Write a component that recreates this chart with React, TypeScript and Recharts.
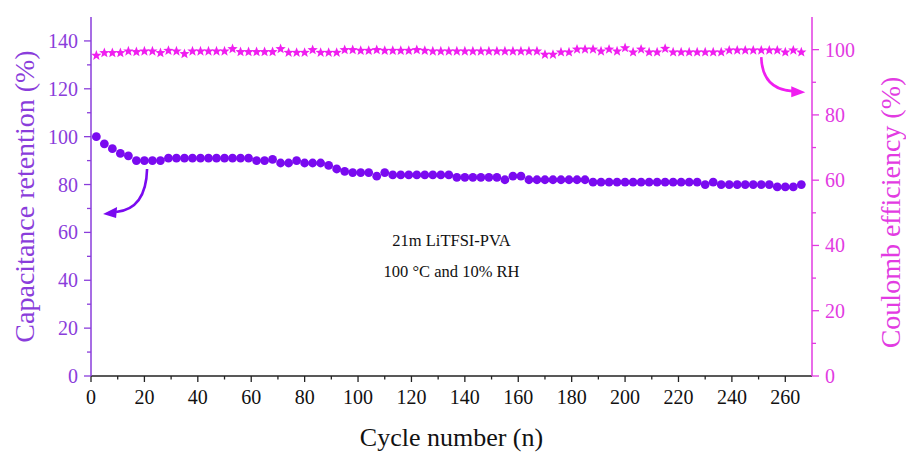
import { ComposedChart, Line, XAxis, YAxis, ReferenceDot } from 'recharts';

// cycle numbers where a measurement was taken
const CYCLES = [
  2, 5, 8, 11, 14, 17, 20, 23, 26, 29,
  32, 35, 38, 41, 44, 47, 50, 53, 56, 59,
  62, 65, 68, 71, 74, 77, 80, 83, 86, 89,
  92, 95, 98, 101, 104, 107, 110, 113, 116, 119,
  122, 125, 128, 131, 134, 137, 140, 143, 146, 149,
  152, 155, 158, 161, 164, 167, 170, 173, 176, 179,
  182, 185, 188, 191, 194, 197, 200, 203, 206, 209,
  212, 215, 218, 221, 224, 227, 230, 233, 236, 239,
  242, 245, 248, 251, 254, 257, 260, 263, 266,
];

// capacitance retention (%)
const RETENTION = [
  100, 97, 95, 93, 92, 90, 90, 90, 90, 91,
  91, 91, 91, 91, 91, 91, 91, 91, 91, 91,
  90, 90, 90.5, 89, 89, 90, 89, 89, 89, 88,
  86.5, 85.5, 85, 85, 85, 83.5, 85, 84, 84, 84,
  84, 84, 84, 84, 84, 83, 83, 83, 83, 83,
  83, 82, 83.5, 83.5, 82, 82, 82, 82, 82, 82,
  82, 82, 81, 81, 81, 81, 81, 81, 81, 81,
  81, 81, 81, 81, 81, 81, 80, 81, 80, 80,
  80, 80, 80, 80, 80, 79, 79, 79, 80,
];

// coulomb efficiency (%)
const COULOMB = [
  98.2, 99.0, 99.0, 99.0, 99.5, 99.3, 99.5, 99.5, 99.0, 99.7,
  99.5, 98.7, 99.5, 99.5, 99.5, 99.5, 99.5, 100.2, 99.3, 99.3,
  99.3, 99.3, 99.3, 100.2, 99.1, 99.1, 99.1, 99.9, 99.1, 99.1,
  99.1, 99.9, 99.9, 99.7, 99.7, 99.9, 99.7, 99.7, 99.7, 99.7,
  99.9, 99.7, 99.5, 99.5, 99.5, 99.5, 99.5, 99.5, 99.5, 99.5,
  99.5, 99.5, 99.5, 99.5, 99.5, 99.5, 98.5, 98.5, 99.2, 99.2,
  100.1, 100.1, 100.1, 99.5, 100.1, 99.5, 100.5, 99.2, 100.1, 99.2,
  99.2, 100.3, 99.2, 99.2, 99.2, 99.2, 99.2, 99.2, 99.2, 99.8,
  99.8, 99.8, 99.8, 99.8, 99.8, 99.8, 99.2, 99.8, 99.2,
];

const X_TICKS = [0, 10, 20, 30, 40, 50, 60, 70, 80, 90, 100, 110, 120, 130, 140, 150, 160, 170, 180, 190, 200, 210, 220, 230, 240, 250, 260];
const LEFT_TICKS = [0, 10, 20, 30, 40, 50, 60, 70, 80, 90, 100, 110, 120, 130, 140];
const RIGHT_TICKS = [0, 10, 20, 30, 40, 50, 60, 70, 80, 90, 100];

const rows = CYCLES.map((cycle, i) => ({ cycle, retention: RETENTION[i], coulomb: COULOMB[i] }));

const SERIF = '"Liberation Serif", "Times New Roman", serif';
const VIOLET = '#8a3ddb';
const VIOLET_DOT = '#7a0af0';
const MAGENTA = '#e23be2';
const MAGENTA_DOT = '#f01ef0';

const starPoints = (cx: number, cy: number, outer: number, inner: number) => {
  const pts: string[] = [];
  for (let k = 0; k < 10; k++) {
    const r = k % 2 === 0 ? outer : inner;
    const a = -Math.PI / 2 + (k * Math.PI) / 5;
    pts.push(`${cx + r * Math.cos(a)},${cy + r * Math.sin(a)}`);
  }
  return pts.join(' ');
};

const renderCircle = (p: any) => (
  <circle key={`c-${p.index}`} cx={p.cx} cy={p.cy} r={4.4} fill={VIOLET_DOT} />
);

const renderStar = (p: any) => (
  <polygon key={`s-${p.index}`} points={starPoints(p.cx, p.cy, 5.4, 2.3)} fill={MAGENTA_DOT} />
);

const BottomTick = ({ x, y, payload }: any) => {
  const major = payload.value % 20 === 0;
  return (
    <g>
      <line x1={x} x2={x} y1={y} y2={y + (major ? 6 : 3.5)} stroke="#222" strokeWidth={1.3} />
      {major && (
        <text x={x} y={y + 21} textAnchor="middle" dominantBaseline="central" fontFamily={SERIF} fontSize={20} fill="#111">
          {payload.value}
        </text>
      )}
    </g>
  );
};

const LeftTick = ({ x, y, payload }: any) => {
  const major = payload.value % 20 === 0;
  return (
    <g>
      <line x1={x} x2={x - (major ? 7 : 4)} y1={y} y2={y} stroke={VIOLET} strokeWidth={1.3} />
      {major && (
        <text x={x - 13} y={y} textAnchor="end" dominantBaseline="central" fontFamily={SERIF} fontSize={20} fill={VIOLET}>
          {payload.value}
        </text>
      )}
    </g>
  );
};

const RightTick = ({ x, y, payload }: any) => {
  const major = payload.value % 20 === 0;
  return (
    <g>
      <line x1={x} x2={x + (major ? 7 : 4)} y1={y} y2={y} stroke={MAGENTA} strokeWidth={1.3} />
      {major && (
        <text x={x + 13} y={y} textAnchor="start" dominantBaseline="central" fontFamily={SERIF} fontSize={20} fill={MAGENTA}>
          {payload.value}
        </text>
      )}
    </g>
  );
};

const leftTitle = ({ viewBox }: any) => {
  const x = viewBox.x + 24;
  const y = viewBox.y + viewBox.height / 2;
  return (
    <text x={x} y={y} transform={`rotate(-90, ${x}, ${y})`} textAnchor="middle" dominantBaseline="central" fontFamily={SERIF} fontSize={28} fill={VIOLET}>
      Capacitance retention (%)
    </text>
  );
};

const rightTitle = ({ viewBox }: any) => {
  const x = viewBox.x + 78;
  const y = viewBox.y + viewBox.height / 2 + 16;
  return (
    <text x={x} y={y} transform={`rotate(-90, ${x}, ${y})`} textAnchor="middle" dominantBaseline="central" fontFamily={SERIF} fontSize={28} fill={MAGENTA}>
      Coulomb efficiency (%)
    </text>
  );
};

const bottomTitle = ({ viewBox }: any) => (
  <text x={viewBox.x + viewBox.width / 2} y={viewBox.y + 61} textAnchor="middle" dominantBaseline="central" fontFamily={SERIF} fontSize={26} fill="#111">
    Cycle number (n)
  </text>
);

// curved arrows pointing each series to its axis
const leftArrow = ({ cx, cy }: any) => (
  <g>
    <path d={`M ${cx} ${cy} Q ${cx - 1} ${cy + 40} ${cx - 31} ${cy + 43}`} fill="none" stroke={VIOLET_DOT} strokeWidth={2.6} />
    <polygon points={`${cx - 44},${cy + 45} ${cx - 30},${cy + 38} ${cx - 31},${cy + 49}`} fill={VIOLET_DOT} />
  </g>
);

const rightArrow = ({ cx, cy }: any) => (
  <g>
    <path d={`M ${cx} ${cy} Q ${cx + 1} ${cy + 32} ${cx + 31} ${cy + 34}`} fill="none" stroke={MAGENTA_DOT} strokeWidth={2.6} />
    <polygon points={`${cx + 44},${cy + 35} ${cx + 30},${cy + 29} ${cx + 30},${cy + 40}`} fill={MAGENTA_DOT} />
  </g>
);

const noteText = (lines: string[]) => ({ cx, cy }: any) => (
  <g>
    {lines.map((t, i) => (
      <text key={t} x={cx} y={cy + i * 31} textAnchor="middle" dominantBaseline="central" fontFamily={SERIF} fontSize={16.5} fill="#111">
        {t}
      </text>
    ))}
  </g>
);

export default function App() {
  return (
    <div style={{ position: 'absolute', left: 0, top: 0, background: '#fff' }}>
      <ComposedChart width={906} height={452} data={rows} margin={{ top: 17, right: 0, bottom: 0, left: 0 }}>
        <XAxis
          xAxisId="top"
          orientation="top"
          type="number"
          domain={[0, 270]}
          height={0}
          tick={false}
          tickLine={false}
          axisLine={{ stroke: '#444', strokeWidth: 1.5 }}
        />
        <XAxis
          dataKey="cycle"
          type="number"
          domain={[0, 270]}
          ticks={X_TICKS}
          interval={0}
          height={76}
          tickSize={0}
          tickMargin={0}
          tickLine={false}
          tick={<BottomTick />}
          axisLine={{ stroke: '#222', strokeWidth: 1.5 }}
          label={bottomTitle}
        />
        <YAxis
          yAxisId="left"
          type="number"
          domain={[0, 150]}
          ticks={LEFT_TICKS}
          interval={0}
          width={91}
          tickSize={0}
          tickMargin={0}
          tickLine={false}
          tick={<LeftTick />}
          axisLine={{ stroke: VIOLET, strokeWidth: 1.5 }}
          label={leftTitle}
        />
        <YAxis
          yAxisId="right"
          orientation="right"
          type="number"
          domain={[0, 110]}
          ticks={RIGHT_TICKS}
          interval={0}
          width={94}
          tickSize={0}
          tickMargin={0}
          tickLine={false}
          tick={<RightTick />}
          axisLine={{ stroke: MAGENTA, strokeWidth: 1.5 }}
          label={rightTitle}
        />
        <Line
          yAxisId="right"
          dataKey="coulomb"
          stroke="none"
          dot={renderStar}
          activeDot={false}
          isAnimationActive={false}
        />
        <Line
          yAxisId="left"
          dataKey="retention"
          stroke="none"
          dot={renderCircle}
          activeDot={false}
          isAnimationActive={false}
        />
        <ReferenceDot yAxisId="left" x={21} y={86.5} r={0} shape={leftArrow} />
        <ReferenceDot yAxisId="right" x={251} y={97.7} r={0} shape={rightArrow} />
        <ReferenceDot yAxisId="left" x={135} y={56.8} r={0} shape={noteText(['21m LiTFSI-PVA', '100 °C and 10% RH'])} />
      </ComposedChart>
    </div>
  );
}
